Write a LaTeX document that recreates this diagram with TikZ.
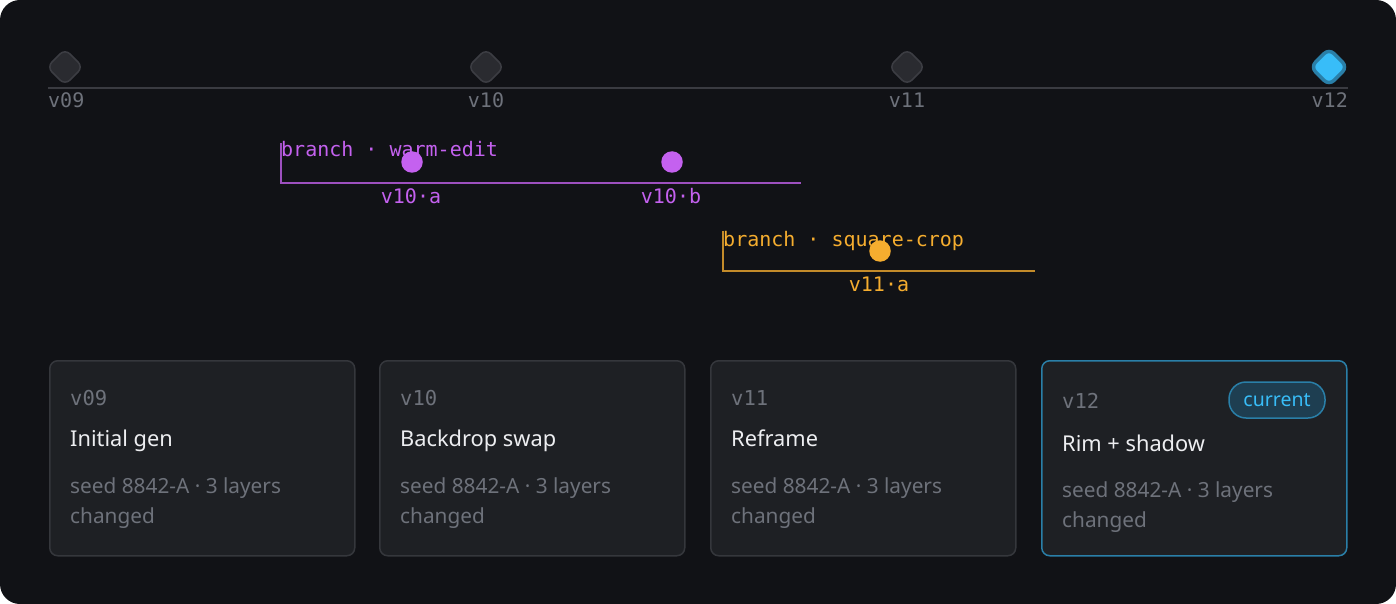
\documentclass[tikz,border=0pt]{standalone}
\usepackage{fontspec}
\setmainfont{Noto Sans}
\setmonofont{DejaVu Sans Mono}

\definecolor{bgdark}{HTML}{111216}
\definecolor{cardfill}{HTML}{1E2024}
\definecolor{cardline}{HTML}{35373C}
\definecolor{spine}{HTML}{3A3B41}
\definecolor{dotgray}{HTML}{2A2B30}
\definecolor{dotline}{HTML}{3C3D43}
\definecolor{mutedtxt}{HTML}{6E727B}
\definecolor{titletxt}{HTML}{EDEEF1}
\definecolor{skyblue}{HTML}{38BDF8}
\definecolor{skyline}{HTML}{2A7FA8}
\definecolor{pillfill}{HTML}{1E3E51}
\definecolor{warmpurple}{HTML}{C461EF}
\definecolor{cropamber}{HTML}{F5AD2F}

\tikzset{
  mono/.style={font=\ttfamily\fontsize{20}{22}\selectfont, text=mutedtxt, inner sep=0pt},
  cardmono/.style={font=\ttfamily\fontsize{20.5}{24}\selectfont, text=mutedtxt, inner sep=0pt},
  cardtitle/.style={font=\fontsize{21.8}{25}\selectfont, text=titletxt, inner sep=0pt},
  seedtxt/.style={font=\fontsize{20.8}{30}\selectfont, text=mutedtxt, inner sep=0pt, align=left},
  milestone/.style={shape=rectangle, rotate=45, minimum size=25.5, inner sep=0pt,
    rounded corners=7, draw=dotline, fill=dotgray, line width=1.5},
  card/.style={shape=rectangle, anchor=north west, minimum width=305, minimum height=195,
    rounded corners=8, draw=cardline, fill=cardfill, line width=1.5},
  bdot/.style={circle, minimum size=21.5, inner sep=0pt},
}

\begin{document}
\begin{tikzpicture}[x=1pt,y=-1pt]
\useasboundingbox (0,0) rectangle (1396,604);
% backdrop
\fill[white] (0,0) rectangle (1396,604);
\fill[bgdark, rounded corners=20] (0,0) rectangle (1396,604);

% main timeline
\coordinate (sp0) at (48,88);
\coordinate (sp1) at (1348,88);
\draw[spine, line width=2] (sp0) -- (sp1);
\foreach \x/\ver in {65/09, 486/10, 907/11} {
    \node[milestone] (m\ver) at (\x,67) {};
}
\node[milestone, minimum size=26, draw=skyline, fill=skyblue, line width=3.5] (m12) at (1329,67) {};
\node[mono, anchor=base west] (l09) at (48,108) {v09};
\node[mono, anchor=base] (l10) at (486,108) {v10};
\node[mono, anchor=base] (l11) at (907,108) {v11};
\node[mono, anchor=base east] (l12) at (1348,108) {v12};

% branch: warm-edit
\node[mono, text=warmpurple, anchor=base west] (brwarm) at (281,157) {branch · warm-edit};
\coordinate (w0) at (281,143);
\coordinate (w1) at (281,183);
\coordinate (w2) at (801,183);
\draw[warmpurple!78!bgdark, line width=1.5] (w0) -- (w1) -- (w2);
\node[bdot, fill=warmpurple] (v10a) at (412,162) {};
\node[bdot, fill=warmpurple] (v10b) at (672,162) {};
\node[mono, text=warmpurple, anchor=base] (lv10a) at (411,203) {v10·a};
\node[mono, text=warmpurple, anchor=base] (lv10b) at (671,203) {v10·b};

% branch: square-crop
\node[mono, text=cropamber, anchor=base west] (brcrop) at (723,246) {branch · square-crop};
\coordinate (q0) at (723,231);
\coordinate (q1) at (723,271);
\coordinate (q2) at (1035,271);
\draw[cropamber!78!bgdark, line width=1.5] (q0) -- (q1) -- (q2);
\node[bdot, fill=cropamber] (v11a) at (880,251) {};
\node[mono, text=cropamber, anchor=base] (lv11a) at (879,291) {v11·a};

% version cards
\foreach \x/\ver/\ttl in {49/09/Initial gen, 379/10/Backdrop swap, 710/11/Reframe} {
    \node[card] (c\ver) at (\x,360) {};
    \node[cardmono, anchor=base west] at (\x+21,405) {v\ver};
    \node[cardtitle, anchor=base west] at (\x+21,446) {\ttl};
    \node[seedtxt, anchor=base west] at (\x+21,523) {seed 8842-A · 3 layers\\changed};
}
% current card
\node[card, draw=skyline] (c12) at (1041,360) {};
\node[cardmono, anchor=base west] (t12) at (1062,408) {v12};
\node[shape=rectangle, minimum width=96, minimum height=36, rounded corners=17,
  draw=skyline, fill=pillfill, line width=1.5, text=skyblue,
  font=\fontsize{19.5}{22}\selectfont] (pill) at (1277,400) {current};
\node[cardtitle, anchor=base west] at (1062,451) {Rim + shadow};
\node[seedtxt, anchor=base west] at (1062,527) {seed 8842-A · 3 layers\\changed};

\end{tikzpicture}
\end{document}
